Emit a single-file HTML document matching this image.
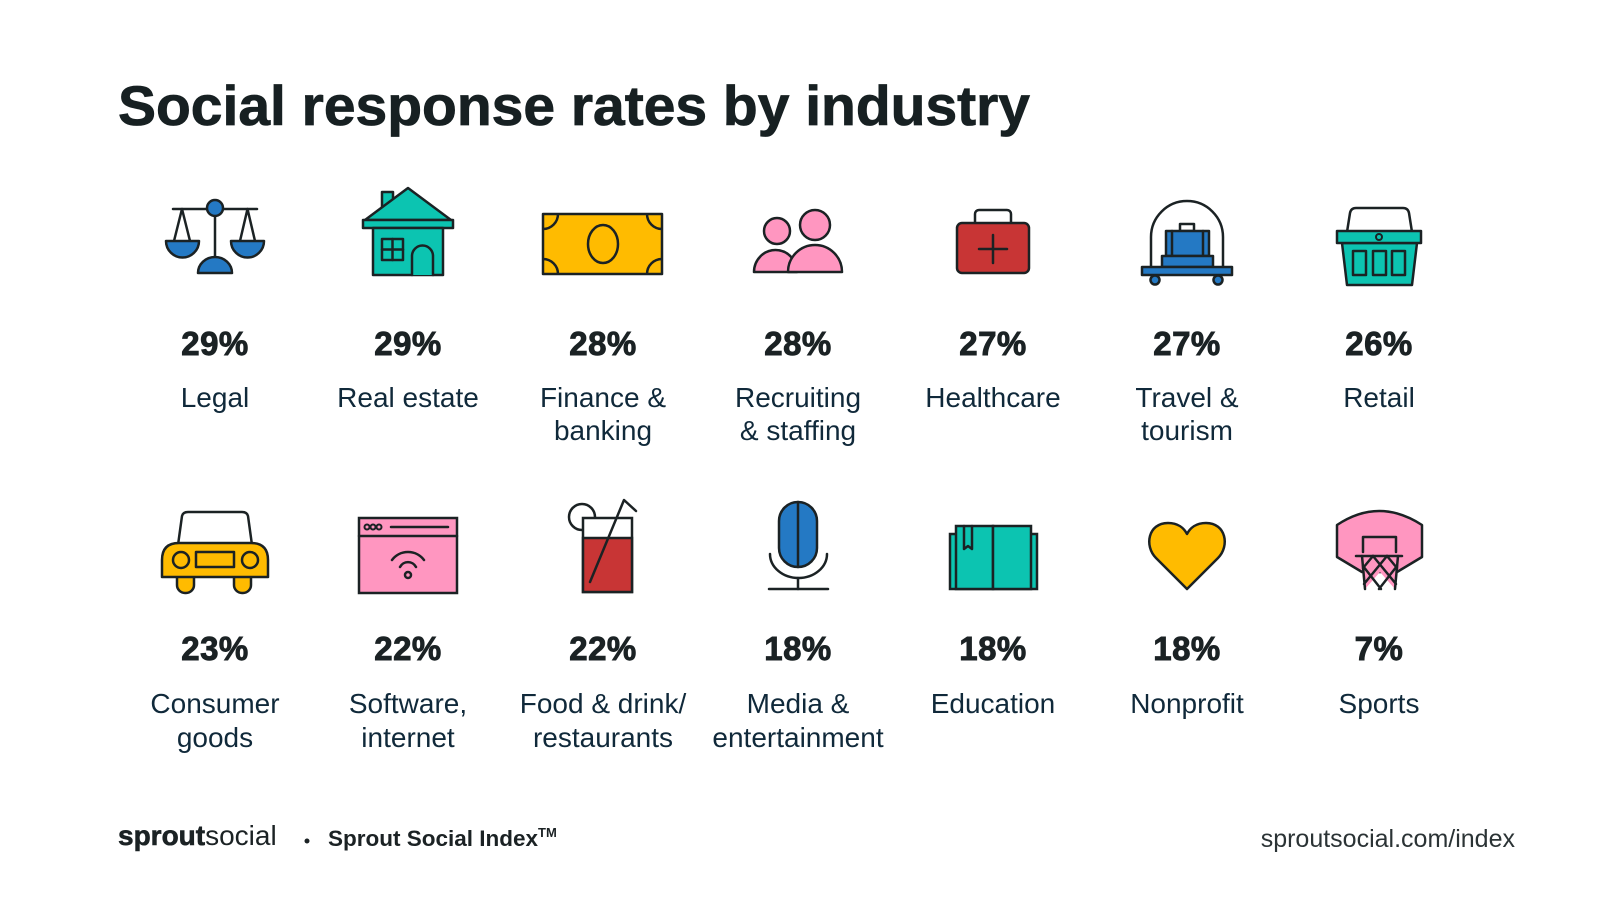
<!DOCTYPE html>
<html>
<head>
<meta charset="utf-8">
<style>
html,body{margin:0;padding:0;background:#fff;}
svg{display:block;}
.t{font-family:"Liberation Sans",sans-serif;}
.pct{font-family:"Liberation Sans",sans-serif;font-weight:bold;font-size:33px;fill:#1b2224;stroke:#1b2224;stroke-width:0.9;text-anchor:middle;letter-spacing:0.5px;}
.lbl{font-family:"Liberation Sans",sans-serif;font-size:28px;fill:#10293a;text-anchor:middle;}
.s{stroke:#1b2224;stroke-width:2.5;stroke-linejoin:round;stroke-linecap:round;}
</style>
</head>
<body>
<svg width="1600" height="900" viewBox="0 0 1600 900" xmlns="http://www.w3.org/2000/svg">
<rect width="1600" height="900" fill="#fff"/>
<text class="t" x="118" y="125" font-size="56" font-weight="bold" fill="#172022" stroke="#172022" stroke-width="0.8" textLength="912" lengthAdjust="spacingAndGlyphs">Social response rates by industry</text>

<!-- Legal -->
<g class="s" fill="#2479c4">
<line x1="173" y1="209" x2="257" y2="209"/>
<line x1="215" y1="209" x2="215" y2="258"/>
<polyline points="174,241 182,209 190,241" fill="none"/>
<polyline points="240,241 247.5,209 255,241" fill="none"/>
<path d="M166 241 A16.5 16.5 0 0 0 199 241 Z"/>
<path d="M231 241 A16.5 16.5 0 0 0 264 241 Z"/>
<path d="M198 273 A17 16 0 0 1 232 273 Z"/>
<circle cx="215" cy="208" r="8"/>
</g>

<!-- House -->
<g class="s" fill="#0cc4b1">
<rect x="382" y="192" width="11" height="20"/>
<polygon points="365,220 408,188 451,220"/>
<rect x="363" y="220" width="90" height="8"/>
<rect x="373" y="228" width="70" height="47"/>
<rect x="382" y="239" width="21" height="21" fill="none"/>
<line x1="392.5" y1="239" x2="392.5" y2="260"/>
<line x1="382" y1="249.5" x2="403" y2="249.5"/>
<path d="M412 275 V256 A10.5 10.5 0 0 1 433 256 V275"/>
</g>

<!-- Money -->
<defs><clipPath id="mc"><rect x="543" y="214" width="119" height="60"/></clipPath></defs>
<rect x="543" y="214" width="119" height="60" fill="#ffbb00"/>
<g clip-path="url(#mc)" fill="none" class="s">
<circle cx="543" cy="214" r="15"/><circle cx="662" cy="214" r="15"/>
<circle cx="543" cy="274" r="15"/><circle cx="662" cy="274" r="15"/>
</g>
<rect x="543" y="214" width="119" height="60" fill="none" class="s" stroke-linecap="butt" stroke-linejoin="miter"/>
<ellipse cx="603" cy="244" rx="15" ry="19" fill="none" class="s"/>

<!-- People -->
<g class="s" fill="#ff96c0">
<path d="M754 272 A21.5 22 0 0 1 797 272 Z"/>
<circle cx="777" cy="231" r="13"/>
<path d="M788 272 A27 27 0 0 1 842 272 Z"/>
<circle cx="815" cy="225" r="15"/>
</g>

<!-- Healthcare -->
<g class="s">
<rect x="975" y="210" width="36" height="22" rx="4" fill="none"/>
<rect x="957" y="223" width="72" height="50" rx="5" fill="#c83535"/>
<line x1="993" y1="235" x2="993" y2="263"/>
<line x1="979" y1="249" x2="1007" y2="249"/>
</g>

<!-- Travel -->
<g class="s">
<path d="M1151 267 V237 A36 36 0 0 1 1223 237 V267" fill="none"/>
<rect x="1180" y="224" width="14" height="7" fill="#fff"/>
<rect x="1166" y="231" width="43" height="25" fill="#2479c4"/>
<line x1="1172" y1="231" x2="1172" y2="256"/>
<line x1="1203" y1="231" x2="1203" y2="256"/>
<rect x="1162" y="256" width="51" height="11" fill="#2479c4"/>
<rect x="1142" y="267" width="90" height="8" fill="#2479c4"/>
<circle cx="1155" cy="280" r="4.5" fill="#2479c4"/>
<circle cx="1218" cy="280" r="4.5" fill="#2479c4"/>
</g>

<!-- Retail -->
<g class="s">
<path d="M1347 232 L1350 213 Q1351 208 1356 208 H1403 Q1408 208 1409 213 L1412 232" fill="none"/>
<polygon points="1342,243 1417,243 1412,285 1347,285" fill="#0cc4b1"/>
<rect x="1337" y="231" width="84" height="12" fill="#0cc4b1"/>
<circle cx="1379" cy="237" r="3" fill="none" stroke-width="2"/>
<rect x="1353" y="251" width="13" height="24" fill="none"/>
<rect x="1373" y="251" width="13" height="24" fill="none"/>
<rect x="1392" y="251" width="13" height="24" fill="none"/>
</g>

<!-- Row 1 text -->
<text class="pct" x="215" y="355">29%</text>
<text class="pct" x="408" y="355">29%</text>
<text class="pct" x="603" y="355">28%</text>
<text class="pct" x="798" y="355">28%</text>
<text class="pct" x="993" y="355">27%</text>
<text class="pct" x="1187" y="355">27%</text>
<text class="pct" x="1379" y="355">26%</text>

<text class="lbl" x="215" y="407">Legal</text>
<text class="lbl" x="408" y="407">Real estate</text>
<text class="lbl" x="603" y="407">Finance &amp;</text>
<text class="lbl" x="603" y="440">banking</text>
<text class="lbl" x="798" y="407">Recruiting</text>
<text class="lbl" x="798" y="440">&amp; staffing</text>
<text class="lbl" x="993" y="407">Healthcare</text>
<text class="lbl" x="1187" y="407">Travel &amp;</text>
<text class="lbl" x="1187" y="440">tourism</text>
<text class="lbl" x="1379" y="407">Retail</text>

<!-- Car -->
<g class="s">
<rect x="177" y="566" width="17" height="27" rx="8" fill="#ffbb00"/>
<rect x="234" y="566" width="17" height="27" rx="8" fill="#ffbb00"/>
<path d="M178 545 L182 516 Q183 512 188 512 L242 512 Q247 512 248 516 L252 545" fill="#fff"/>
<path d="M162 577 V560 Q162 543 179 543 H251 Q268 543 268 560 V577 Z" fill="#ffbb00"/>
<circle cx="181" cy="560" r="8" fill="none"/>
<circle cx="250" cy="560" r="8" fill="none"/>
<rect x="196" y="552" width="38" height="15" fill="none"/>
</g>

<!-- Software -->
<g class="s">
<rect x="359" y="518" width="98" height="75" fill="#ff96c0" stroke-linejoin="miter"/>
<line x1="359" y1="536" x2="457" y2="536"/>
<circle cx="367" cy="527" r="2.5" fill="none" stroke-width="2"/>
<circle cx="373" cy="527" r="2.5" fill="none" stroke-width="2"/>
<circle cx="379" cy="527" r="2.5" fill="none" stroke-width="2"/>
<line x1="391" y1="527" x2="448" y2="527"/>
<path d="M392 560 A20 20 0 0 1 424 560" fill="none"/>
<path d="M400 567 A9 9 0 0 1 416 567" fill="none"/>
<circle cx="408" cy="575" r="3" fill="none"/>
</g>

<!-- Drink -->
<g class="s">
<circle cx="582" cy="517" r="13" fill="#fff"/>
<rect x="583" y="518" width="49" height="74" fill="#fff" stroke-linejoin="miter"/>
<rect x="583" y="538" width="49" height="54" fill="#c83535" stroke-linejoin="miter"/>
<polyline points="590,582 624,500 636,511" fill="none"/>
</g>

<!-- Mic -->
<g class="s">
<rect x="779" y="502" width="38" height="65" rx="19" fill="#2479c4"/>
<line x1="798" y1="502" x2="798" y2="567"/>
<path d="M770 554 A28.5 24 0 0 0 827 554" fill="none"/>
<line x1="798" y1="578" x2="798" y2="589"/>
<line x1="769" y1="589" x2="828" y2="589"/>
</g>

<!-- Book -->
<g class="s" fill="#0cc4b1">
<rect x="950" y="534" width="87" height="55" stroke-linejoin="miter"/>
<rect x="956" y="526" width="37" height="63" stroke-linejoin="miter"/>
<rect x="993" y="526" width="38" height="63" stroke-linejoin="miter"/>
<path d="M964 526 V549 L968 546 L972 549 V526" fill="none"/>
</g>

<!-- Heart -->
<path class="s" fill="#ffbb00" d="M1187 589 L1156 558 C1144 546 1148 523 1168 523 C1178 523 1184 528 1187 534 C1190 528 1196 523 1206 523 C1226 523 1230 546 1218 558 Z"/>

<!-- Hoop -->
<g class="s">
<path d="M1337 557 V525 Q1379 497 1422 525 V557 L1397 572 H1362 Z" fill="#ff96c0"/>
<polyline points="1363,552 1363,537 1396,537 1396,552" fill="none"/>
<path d="M1363 556 L1365 589 L1380 572 L1395 589 L1397 556 Z" fill="#ff96c0" stroke="none"/>
<line x1="1356" y1="556" x2="1402" y2="556"/>
<line x1="1362" y1="556" x2="1365" y2="589"/>
<line x1="1398" y1="556" x2="1395" y2="589"/>
<line x1="1363" y1="566" x2="1381" y2="589"/>
<line x1="1373" y1="556" x2="1396" y2="584"/>
<line x1="1387" y1="556" x2="1397" y2="568"/>
<line x1="1397" y1="566" x2="1379" y2="589"/>
<line x1="1387" y1="556" x2="1364" y2="584"/>
<line x1="1373" y1="556" x2="1363" y2="568"/>
</g>

<!-- Row 2 text -->
<text class="pct" x="215" y="660">23%</text>
<text class="pct" x="408" y="660">22%</text>
<text class="pct" x="603" y="660">22%</text>
<text class="pct" x="798" y="660">18%</text>
<text class="pct" x="993" y="660">18%</text>
<text class="pct" x="1187" y="660">18%</text>
<text class="pct" x="1379" y="660">7%</text>

<text class="lbl" x="215" y="713">Consumer</text>
<text class="lbl" x="215" y="747">goods</text>
<text class="lbl" x="408" y="713">Software,</text>
<text class="lbl" x="408" y="747">internet</text>
<text class="lbl" x="603" y="713">Food &amp; drink/</text>
<text class="lbl" x="603" y="747">restaurants</text>
<text class="lbl" x="798" y="713">Media &amp;</text>
<text class="lbl" x="798" y="747">entertainment</text>
<text class="lbl" x="993" y="713">Education</text>
<text class="lbl" x="1187" y="713">Nonprofit</text>
<text class="lbl" x="1379" y="713">Sports</text>

<!-- Footer -->
<text class="t" x="118" y="845" font-size="28" fill="#1b2224"><tspan font-weight="bold" stroke="#1b2224" stroke-width="0.6">sprout</tspan><tspan>social</tspan></text>
<circle cx="307" cy="841" r="2.5" fill="#1b2224"/>
<text class="t" x="328" y="846" font-size="22.5" font-weight="bold" fill="#1b2224">Sprout Social Index<tspan font-size="13" dy="-9">TM</tspan></text>
<text class="t" x="1515" y="847" font-size="25" fill="#2b3335" text-anchor="end">sproutsocial.com/index</text>
</svg>
</body>
</html>
